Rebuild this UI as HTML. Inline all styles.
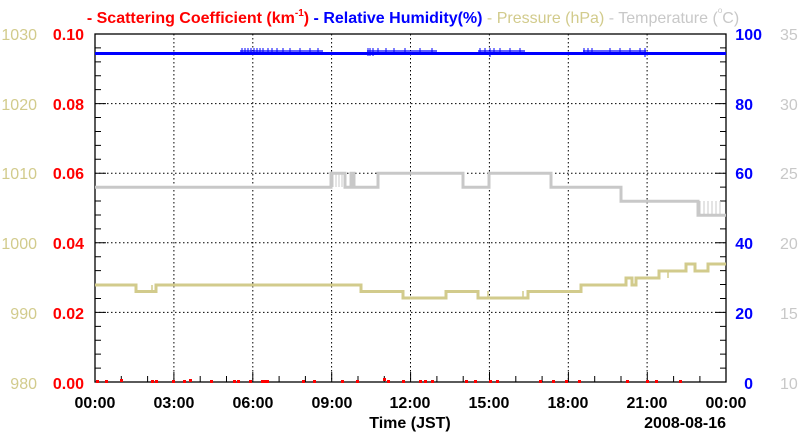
<!DOCTYPE html>
<html><head><meta charset="utf-8"><style>
html,body{margin:0;padding:0;background:#fff;}
svg{display:block;font-family:"Liberation Sans",sans-serif;}
</style></head><body>
<svg width="800" height="434" viewBox="0 0 800 434" xmlns="http://www.w3.org/2000/svg">
<rect width="800" height="434" fill="#fff"/>
<!-- title -->
<text x="413" y="23" text-anchor="middle" font-size="16"><tspan fill="#ff0000" font-weight="bold">- Scattering Coefficient (km</tspan><tspan fill="#ff0000" font-weight="bold" font-size="10" dy="-7">-1</tspan><tspan fill="#ff0000" font-weight="bold" dy="7">)</tspan><tspan fill="#0000ff" font-weight="bold"> - Relative Humidity(%)</tspan><tspan fill="#d2cb8c"> - Pressure (hPa)</tspan><tspan fill="#c8c8c8"> - Temperature (</tspan><tspan fill="#c8c8c8" font-size="8" dy="-10">o</tspan><tspan fill="#c8c8c8" dy="10">C)</tspan></text>
<!-- grid -->
<g stroke="#000" stroke-width="1" stroke-dasharray="1.5,2.5">
<path d="M173.9,34V382M252.8,34V382M331.6,34V382M410.5,34V382M489.4,34V382M568.3,34V382M647.1,34V382"/>
<path d="M95,103.6H726M95,173.2H726M95,242.8H726M95,312.4H726"/>
</g>
<!-- ticks -->
<g stroke="#000" stroke-width="1" fill="none">
<path d="M95,382h6m-6,-13.92h6m-6,-13.92h6m-6,-13.92h6m-6,-13.92h6m-6,-13.92h11m-11,-13.92h6m-6,-13.92h6m-6,-13.92h6m-6,-13.92h6m-6,-13.92h11m-11,-13.92h6m-6,-13.92h6m-6,-13.92h6m-6,-13.92h6m-6,-13.92h11m-11,-13.92h6m-6,-13.92h6m-6,-13.92h6m-6,-13.92h6m-6,-13.92h11m-11,-13.92h6m-6,-13.92h6m-6,-13.92h6m-6,-13.92h6"/>
<path d="M726,382h-6m6,-13.92h-6m6,-13.92h-6m6,-13.92h-6m6,-13.92h-6m6,-13.92h-11m11,-13.92h-6m6,-13.92h-6m6,-13.92h-6m6,-13.92h-6m6,-13.92h-11m11,-13.92h-6m6,-13.92h-6m6,-13.92h-6m6,-13.92h-6m6,-13.92h-11m11,-13.92h-6m6,-13.92h-6m6,-13.92h-6m6,-13.92h-6m6,-13.92h-11m11,-13.92h-6m6,-13.92h-6m6,-13.92h-6m6,-13.92h-6"/>
<path d="M121.3,382v-6m26.3,6v-6m26.3,6v-10m26.3,10v-6m26.3,6v-6m26.3,6v-10m26.3,10v-6m26.3,6v-6m26.3,6v-10m26.3,10v-6m26.3,6v-6m26.3,6v-10m26.3,10v-6m26.3,6v-6m26.3,6v-10m26.3,10v-6m26.3,6v-6m26.3,6v-10m26.3,10v-6m26.3,6v-6m26.3,6v-10m26.3,10v-6m26.3,6v-6"/>
</g>
<rect x="95" y="34" width="631" height="348" fill="none" stroke="#000" stroke-width="1.3"/>
<!-- temperature -->
<g stroke="#c8c8c8" stroke-width="3" fill="none">
<path d="M95,187.3H331V173.3H345V187.3H351V173.3H354V187.3H378V173.3H463V187.3H489V173.3H551V187.3H621V201.3H698V215.3H726"/>
<path stroke-width="1" d="M333,173V187M336,173V187M339,173V187M342,173V187M700,201V215M704,201V215M708,201V215M712,201V215M716,201V215M720,201V215"/>
</g>
<!-- pressure -->
<g stroke="#d2cb8c" stroke-width="3" fill="none">
<path d="M95,285H136V291.5H156V285H361V291.5H403V298H446V291.5H478V298H528V291.5H581V285H626V278H632V285H636V278H659V271H686V264H695V271H708V264H726"/>
<path stroke-width="1.5" d="M152,285V291M488,291V298M523,291V298M668,271V278"/>
</g>
<!-- humidity -->
<g stroke="#0000ff" fill="none">
<path stroke-width="3" d="M95,53.5H726"/>
<path stroke-width="1.2" d="M240,51H323M367,51H437M478,51H525M583,51H646"/>
<path stroke-width="1" d="M242,48v7M245,48v7M248,48v7M251,48v7M254,48v7M257,48v7M260,48v7M263,48v7M268,48v7M272,48v7M277,48v7M283,48v7M290,48v7M300,48v7M310,48v7M318,48v7M368,48v8M370,48v8M373,48v8M378,48v7M386,48v7M394,48v7M405,48v7M420,48v7M432,48v7M480,48v7M485,48v7M490,48v9M494,48v7M500,48v7M510,48v7M520,48v7M584,48v7M588,48v7M592,48v7M610,48v7M620,48v7M630,48v7M640,48v7M645,48v9"/>
</g>
<!-- scattering dots -->
<g fill="#ff0000">
<rect x="96" y="380" width="3" height="3"/><rect x="105" y="380" width="3" height="3"/><rect x="120" y="379" width="3" height="3"/><rect x="151" y="380" width="3" height="3"/><rect x="155" y="380" width="3" height="3"/><rect x="172" y="380" width="3" height="3"/><rect x="183" y="380" width="3" height="3"/><rect x="189" y="379" width="3" height="3"/><rect x="210" y="380" width="3" height="3"/><rect x="233" y="380" width="3" height="3"/><rect x="237" y="380" width="3" height="3"/><rect x="249" y="380" width="3" height="3"/><rect x="261" y="380" width="3" height="3"/><rect x="264" y="380" width="3" height="3"/><rect x="266" y="380" width="3" height="3"/><rect x="302" y="380" width="3" height="3"/><rect x="313" y="380" width="3" height="3"/><rect x="341" y="380" width="3" height="3"/><rect x="356" y="380" width="3" height="3"/><rect x="383" y="378" width="3" height="3"/><rect x="387" y="380" width="3" height="3"/><rect x="402" y="380" width="3" height="3"/><rect x="419" y="380" width="3" height="3"/><rect x="424" y="380" width="3" height="3"/><rect x="431" y="380" width="3" height="3"/><rect x="465" y="380" width="3" height="3"/><rect x="474" y="380" width="3" height="3"/><rect x="489" y="380" width="3" height="3"/><rect x="496" y="380" width="3" height="3"/><rect x="539" y="380" width="3" height="3"/><rect x="552" y="380" width="3" height="3"/><rect x="565" y="380" width="3" height="3"/><rect x="578" y="380" width="3" height="3"/><rect x="626" y="380" width="3" height="3"/><rect x="646" y="380" width="3" height="3"/><rect x="655" y="380" width="3" height="3"/><rect x="679" y="380" width="3" height="3"/>
</g>
<!-- left labels -->
<g font-size="16" fill="#d2cb8c" text-anchor="end">
<text x="37" y="40">1030</text><text x="37" y="110">1020</text><text x="37" y="179">1010</text><text x="37" y="249">1000</text><text x="37" y="319">990</text><text x="37" y="389">980</text>
</g>
<g font-size="16" font-weight="bold" fill="#ff0000" text-anchor="end">
<text x="84" y="40">0.10</text><text x="84" y="110">0.08</text><text x="84" y="179">0.06</text><text x="84" y="249">0.04</text><text x="84" y="319">0.02</text><text x="84" y="389">0.00</text>
</g>
<!-- right labels -->
<g font-size="16" font-weight="bold" fill="#0000ff" text-anchor="end">
<text x="762" y="40">100</text><text x="753" y="110">80</text><text x="753" y="179">60</text><text x="753" y="249">40</text><text x="753" y="319">20</text><text x="753" y="389">0</text>
</g>
<g font-size="16" fill="#c8c8c8">
<text x="780" y="40">35</text><text x="780" y="110">30</text><text x="780" y="179">25</text><text x="780" y="249">20</text><text x="780" y="319">15</text><text x="780" y="389">10</text>
</g>
<!-- x labels -->
<g font-size="16" font-weight="bold" fill="#000" text-anchor="middle">
<text x="95" y="408">00:00</text><text x="174" y="408">03:00</text><text x="253" y="408">06:00</text><text x="332" y="408">09:00</text><text x="410" y="408">12:00</text><text x="489" y="408">15:00</text><text x="568" y="408">18:00</text><text x="647" y="408">21:00</text><text x="726" y="408">00:00</text>
<text x="410" y="428">Time (JST)</text>
</g>
<text x="726" y="428" font-size="16" font-weight="bold" text-anchor="end">2008-08-16</text>
</svg>
</body></html>
